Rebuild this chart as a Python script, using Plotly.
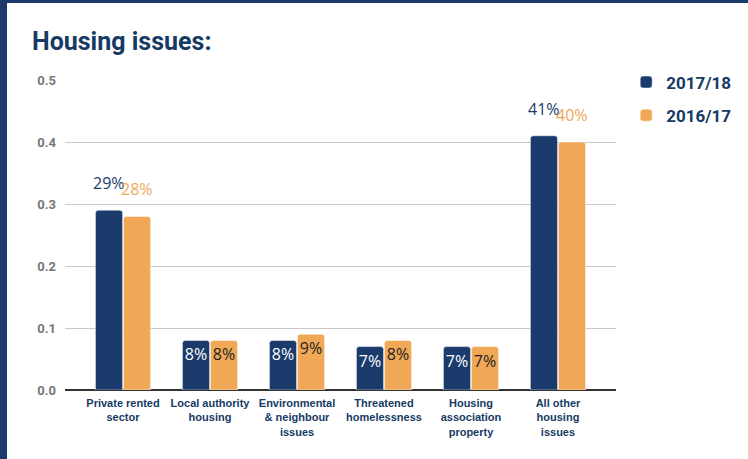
import plotly.graph_objects as go

categories = ["Private rented<br>sector", "Local authority<br>housing", "Environmental<br>& neighbour<br>issues",
              "Threatened<br>homelessness", "Housing<br>association<br>property", "All other<br>housing<br>issues"]
values_1718 = [0.29, 0.08, 0.08, 0.07, 0.07, 0.41]
values_1617 = [0.28, 0.08, 0.09, 0.08, 0.07, 0.40]
y_ticks = [0.0, 0.1, 0.2, 0.3, 0.4, 0.5]

NAVY = "#1b3b6c"
ORANGE = "#f0a857"
OUTSIDE_MIN = 0.2  # taller bars get their label above the bar


def pct(v):
    return f"{round(v * 100)}%"


fig = go.Figure()

series = [("2017/18", values_1718, NAVY, "white", -14),
          ("2016/17", values_1617, ORANGE, "#222222", 14)]

for name, vals, color, inside_col, shift in series:
    fig.add_trace(go.Bar(
        x=categories, y=vals, name=name, legendgroup=name,
        marker=dict(color=color, line=dict(color="white", width=0.5), cornerradius=3),
        text=[pct(v) for v in vals],
        textposition=["none" if v >= OUTSIDE_MIN else "inside" for v in vals],
        insidetextanchor="end", textangle=0,
        insidetextfont=dict(family="Open Sans", size=16, color=inside_col),
        constraintext="none",
        hoverinfo="x+y",
    ))
    # labels above the tall bars
    for c, v in zip(categories, vals):
        if v >= OUTSIDE_MIN:
            fig.add_annotation(x=c, y=v, text=pct(v), showarrow=False,
                               xshift=shift, yshift=14, yanchor="bottom",
                               font=dict(family="Open Sans", size=16, color=color))

# frame on the left and top edges
fig.add_shape(type="rect", xref="paper", yref="paper", x0=-65/551, x1=-58/551, y0=-69/310, y1=1 + 80/310,
              fillcolor=NAVY, line_width=0, layer="above")
fig.add_shape(type="rect", xref="paper", yref="paper", x0=-65/551, x1=1 + 132/551, y0=1 + 77/310, y1=1 + 80/310,
              fillcolor=NAVY, line_width=0, layer="above")

fig.update_layout(
    width=748, height=459,
    margin=dict(l=65, r=132, t=80, b=69, autoexpand=False),
    paper_bgcolor="white", plot_bgcolor="white",
    title=dict(text="<b>Housing issues:</b>", x=32/748, xanchor="left", y=1 - 41/459, yanchor="middle",
               font=dict(family="Roboto", size=25, color="#163a63")),
    barmode="group", bargap=0.356, bargroupgap=0.03,
    showlegend=True,
    legend=dict(x=1.0185, y=1.05, xanchor="left", yanchor="top", tracegroupgap=8,
                font=dict(family="Roboto", size=17, color="#163a63", weight="bold")),
    xaxis=dict(range=[-0.667, 5.667], showgrid=False, showline=False, ticks="", ticklabelstandoff=5,
               tickfont=dict(family="Liberation Sans", size=11, color="#163a63", weight="bold")),
    yaxis=dict(range=[0, 0.5], tickvals=y_ticks, tickformat=".1f", showgrid=True, gridcolor="#c8c8c8",
               zeroline=True, zerolinecolor="#333333", zerolinewidth=1.5, ticklabelstandoff=8,
               tickfont=dict(family="Roboto", size=13, color="#777777", weight="bold")),
)

page_fix = ("document.body.style.margin = '0';"
            "document.body.style.overflow = 'hidden';"
            "document.documentElement.style.overflow = 'hidden';")
fig.write_html("out.html", config={"displayModeBar": False}, post_script=page_fix)
